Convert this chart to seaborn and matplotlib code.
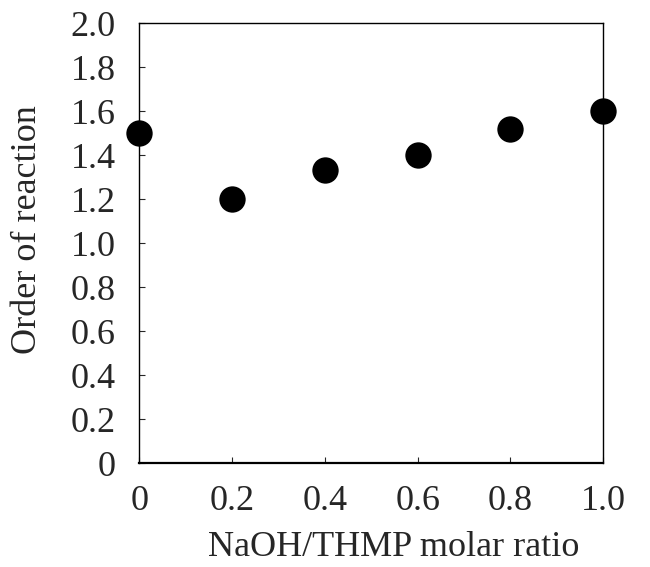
import matplotlib
matplotlib.use("Agg")
import matplotlib.pyplot as plt
import seaborn as sns
import pandas as pd

# valores
razon_molar = [0.0, 0.2, 0.4, 0.6, 0.8, 1.0]
orden_reaccion = [1.50, 1.20, 1.33, 1.40, 1.52, 1.60]
xticks = [0, 0.2, 0.4, 0.6, 0.8, 1.0]
xticklabels = ["0", "0.2", "0.4", "0.6", "0.8", "1.0"]
yticks = [0, 0.2, 0.4, 0.6, 0.8, 1.0, 1.2, 1.4, 1.6, 1.8, 2.0]
yticklabels = ["0", "0.2", "0.4", "0.6", "0.8", "1.0", "1.2", "1.4", "1.6", "1.8", "2.0"]

df = pd.DataFrame({"x": razon_molar, "y": orden_reaccion})

sns.set_style("ticks")
plt.rcParams["font.family"] = ["Liberation Serif", "DejaVu Serif"]

fig = plt.figure(figsize=(6.5, 5.67), dpi=100)
ax = fig.add_axes([0.2146, 0.1834, 0.7134, 0.776])

sns.scatterplot(data=df, x="x", y="y", ax=ax, s=360, color="black",
                edgecolor="black", linewidth=0, clip_on=False, zorder=5)

ax.set_xlim(0, 1.0)
ax.set_ylim(0, 2.0)
ax.set_xticks(xticks)
ax.set_xticklabels(xticklabels)
ax.set_yticks(yticks)
ax.set_yticklabels(yticklabels)
ax.tick_params(direction="in", length=4, width=0.8, labelsize=26)
ax.tick_params(axis="y", pad=17)
ax.tick_params(axis="x", pad=16)
for sp in ax.spines.values():
    sp.set_linewidth(1.0)
    sp.set_color("black")
ax.spines["bottom"].set_linewidth(1.6)

ax.set_xlabel("NaOH/THMP molar ratio", fontsize=26)
ax.set_ylabel("Order of reaction", fontsize=26)
ax.xaxis.set_label_coords(0.549, -0.155)
ax.yaxis.set_label_coords(-0.206, 0.53)

fig.savefig("out.png", dpi=100)
